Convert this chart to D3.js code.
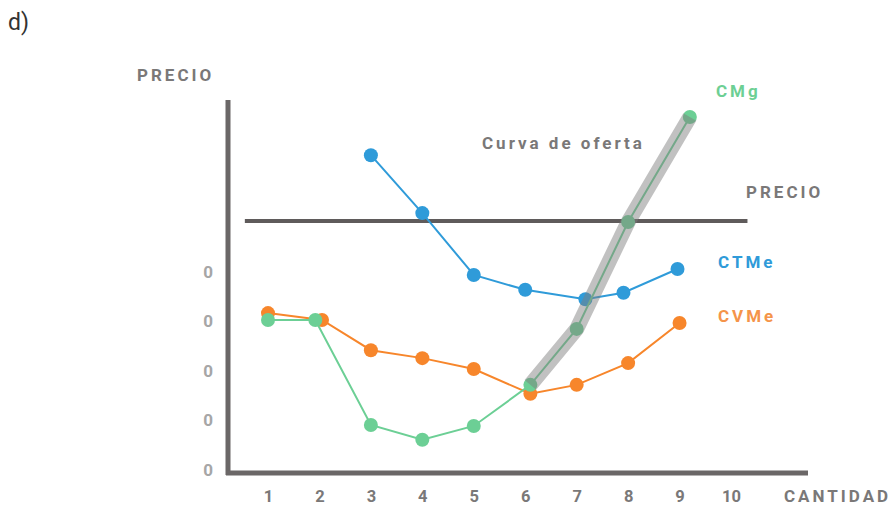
<!DOCTYPE html>
<html>
<head>
<meta charset="utf-8">
<script src="https://cdn.jsdelivr.net/npm/d3@7"></script>
<style>
  body { margin: 0; background: #fff; }
  text { font-family: Roboto, "Open Sans", sans-serif; }
</style>
</head>
<body>
<div id="chart"></div>
<script>
// quantities (x) and values (y, in grid units)
const qtyTicks = [1, 2, 3, 4, 5, 6, 7, 8, 9, 10]
const priceTicks = [0, 1, 2, 3, 4]
const priceTickLabels = ["0", "0", "0", "0", "0"]

const ctmeQty = [3, 4, 5, 6, 7.17, 7.91, 8.96]
const ctmeVal = [6.36, 5.19, 3.94, 3.64, 3.45, 3.58, 4.06]

const cvmeQty = [1, 2.05, 3, 4, 5, 6.1, 7, 8, 9]
const cvmeVal = [3.17, 3.03, 2.42, 2.26, 2.04, 1.54, 1.72, 2.16, 2.97]

const cmgQty = [1, 1.92, 3, 4, 5, 6.1, 7, 8, 9.2]
const cmgVal = [3.03, 3.03, 0.91, 0.61, 0.89, 1.72, 2.85, 5.01, 7.13]

const precioLevel = 5.03
const precioRange = [0.55, 10.32]

const W = 894, H = 506

const svg = d3.select("#chart").append("svg")
    .attr("width", W)
    .attr("height", H)

const x = d3.scaleLinear().domain([1, 10]).range([268, 731])
const y = d3.scaleLinear().domain([0, 4]).range([470, 272])

const gray = "#7a7878"
const axisColor = "#6b6767"

// "d)" panel letter
svg.append("text")
    .attr("x", 8).attr("y", 30)
    .attr("font-size", 23)
    .attr("fill", "#333")
    .text("d)")

// axes frame
svg.append("line")
    .attr("x1", 228).attr("x2", 228)
    .attr("y1", 100).attr("y2", 475)
    .attr("stroke", axisColor).attr("stroke-width", 5)
svg.append("line")
    .attr("x1", 226).attr("x2", 808)
    .attr("y1", 473).attr("y2", 473)
    .attr("stroke", axisColor).attr("stroke-width", 5)

// tick labels via d3 axes
const xAxis = svg.append("g")
    .attr("transform", "translate(0,473)")
    .call(d3.axisBottom(x).tickValues(qtyTicks).tickSize(0).tickPadding(17))
xAxis.select(".domain").remove()
xAxis.selectAll("text")
    .attr("font-family", "Roboto, sans-serif")
    .attr("font-size", 16.5)
    .attr("font-weight", 700)
    .attr("fill", gray)

const yAxis = svg.append("g")
    .attr("transform", "translate(208,0)")
    .call(d3.axisLeft(y).tickValues(priceTicks)
        .tickFormat((d, i) => priceTickLabels[i]).tickSize(0).tickPadding(0))
yAxis.select(".domain").remove()
yAxis.selectAll("text")
    .attr("font-family", "Roboto, sans-serif")
    .attr("font-size", 17)
    .attr("font-weight", 700)
    .attr("text-anchor", "middle")
    .attr("fill", "#a6a6a6")

// axis titles and annotations
function label(txt, px, py, color) {
    svg.append("text")
        .attr("x", px).attr("y", py)
        .attr("font-size", 17)
        .attr("font-weight", 700)
        .attr("letter-spacing", 3)
        .attr("fill", color)
        .text(txt)
}
label("PRECIO", 137, 81, gray)
label("CANTIDAD", 784, 502, gray)
label("Curva de oferta", 482, 149, gray)
label("PRECIO", 746, 198, gray)
label("CMg", 716, 97, "#6dcf94")
label("CTMe", 718, 268, "#2f9bd9")
label("CVMe", 718, 322, "#f5944a")

// price line
svg.append("line")
    .attr("x1", x(precioRange[0])).attr("x2", x(precioRange[1]))
    .attr("y1", y(precioLevel)).attr("y2", y(precioLevel))
    .attr("stroke", "#5f5b5b").attr("stroke-width", 4)

const line = d3.line().x(d => x(d[0])).y(d => y(d[1]))

function series(qs, vs, color) {
    const pts = d3.zip(qs, vs)
    svg.append("path")
        .attr("d", line(pts))
        .attr("fill", "none")
        .attr("stroke", color)
        .attr("stroke-width", 2)
    svg.selectAll(null).data(pts).enter().append("circle")
        .attr("cx", d => x(d[0]))
        .attr("cy", d => y(d[1]))
        .attr("r", 7)
        .attr("fill", color)
}

series(ctmeQty, ctmeVal, "#2f9bd9")
series(cvmeQty, cvmeVal, "#f7862b")
series(cmgQty, cmgVal, "#6ccf95")

// supply curve: rising part of CMg, drawn as a translucent band on top
const supply = d3.zip(cmgQty, cmgVal).slice(5)
svg.append("path")
    .attr("d", line(supply))
    .attr("fill", "none")
    .attr("stroke", "#7d7d7d")
    .attr("stroke-opacity", 0.48)
    .attr("stroke-width", 15)
    .attr("stroke-linejoin", "round")
</script>
</body>
</html>
